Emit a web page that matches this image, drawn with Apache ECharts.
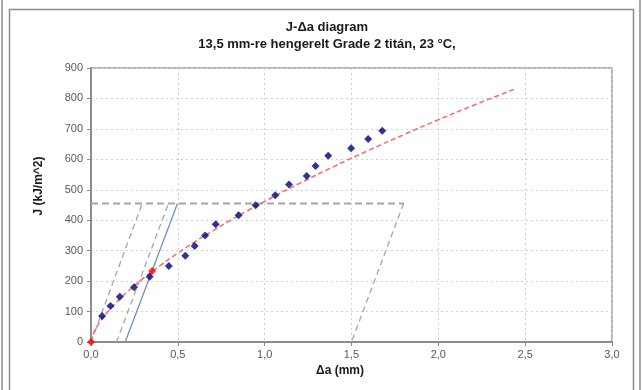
<!DOCTYPE html>
<html>
<head>
<meta charset="utf-8">
<script src="https://cdn.jsdelivr.net/npm/echarts@6/dist/echarts.min.js"></script>
<style>
html,body{margin:0;padding:0;background:#fff;}
#c{width:643px;height:390px;}
</style>
</head>
<body>
<div id="c"></div>
<script>
// Measured data points (Δa mm, J kJ/m^2)
const measDa = [0.064, 0.112, 0.166, 0.248, 0.338, 0.448, 0.543, 0.597, 0.657, 0.718, 0.850, 0.948, 1.061, 1.140, 1.242, 1.293, 1.366, 1.498, 1.596, 1.677];
const measJ  = [85, 118, 149, 180, 214, 250, 283, 315, 350, 387, 416, 449, 482, 517, 545, 578, 612, 636, 667, 694];
// Red points (origin and J_Q)
const redDa = [0, 0.352];
const redJ  = [0, 233];
// Fitted R-curve
const fitDa = [0, 0.02, 0.05, 0.1, 0.2, 0.3, 0.4, 0.5, 0.6, 0.7, 0.8, 0.9, 1.0, 1.2, 1.4, 1.6, 1.8, 2.0, 2.2, 2.436];
const fitJ  = [0, 35, 64, 101, 160, 209, 252, 292, 330, 365, 399, 431, 462, 521, 577, 630, 681, 730, 777, 830];
// Construction lines
const bluntDa = [0, 0.295];   const bluntJ = [0, 455];
const off015Da = [0.147, 0.446]; const off015J = [0, 455];
const off02Da = [0.197, 0.498];  const off02J = [0, 455];
const limHDa = [0, 1.8];        const limHJ = [455, 455];
const off15Da = [1.8, 1.5];     const off15J = [455, 0];
const xTicks = [0, 0.5, 1.0, 1.5, 2.0, 2.5, 3.0];

const zip = (a, b) => a.map((v, i) => [v, b[i]]);
const greyDash = {color: '#A6A6A6', width: 1.3, type: [6, 4]};
const font = 'Liberation Sans, Arial, sans-serif';

const chart = echarts.init(document.getElementById('c'), null, {renderer: 'canvas'});
chart.setOption({
  animation: false,
  backgroundColor: '#fff',
  title: {
    text: 'J-Δa diagram\n13,5 mm-re hengerelt Grade 2 titán, 23 °C,',
    left: 322, top: 14, textAlign: 'center',
    textStyle: {fontFamily: font, fontSize: 13, fontWeight: 'bold', color: '#1a1a1a', lineHeight: 17}
  },
  grid: {left: 91, right: 31, top: 68, bottom: 48, show: true, borderColor: '#A0A0A0', borderWidth: 1.5},
  xAxis: {
    type: 'value', min: 0, max: 3, interval: 0.5,
    axisLine: {show: true, onZero: false, lineStyle: {color: '#8C8C8C', width: 2}},
    axisTick: {show: true, length: 4, lineStyle: {color: '#8C8C8C'}},
    axisLabel: {color: '#595959', fontFamily: font, fontSize: 11, margin: 7,
      formatter: v => v.toFixed(1).replace('.', ',')},
    splitLine: {show: true, lineStyle: {color: '#D0D0D0', type: [2, 3], width: 1}}
  },
  yAxis: {
    type: 'value', min: 0, max: 900, interval: 100,
    axisLine: {show: true, lineStyle: {color: '#8C8C8C', width: 2}},
    axisTick: {show: true, length: 4, lineStyle: {color: '#8C8C8C'}},
    axisLabel: {color: '#595959', fontFamily: font, fontSize: 11, margin: 8},
    splitLine: {show: true, lineStyle: {color: '#D0D0D0', type: [2, 3], width: 1}}
  },
  graphic: [
    {type: 'rect', shape: {x: 9.5, y: 9.5, width: 624, height: 400}, style: {fill: 'none', stroke: '#8C8C8C', lineWidth: 1.5}, silent: true},
    {type: 'line', shape: {x1: 2, y1: 0, x2: 2, y2: 390}, style: {stroke: '#8C8C8C', lineWidth: 1.5}},
    {type: 'line', shape: {x1: 640, y1: 0, x2: 640, y2: 390}, style: {stroke: '#8C8C8C', lineWidth: 1.5}},
    {type: 'text', x: 340, y: 371, style: {text: 'Δa (mm)', fontFamily: font, fontSize: 12, fontWeight: 'bold', fill: '#1a1a1a', textAlign: 'center', textVerticalAlign: 'middle'}},
    {type: 'text', x: 39, y: 186, rotation: Math.PI / 2, style: {text: 'J (kJ/m^2)', fontFamily: font, fontSize: 12, fontWeight: 'bold', fill: '#1a1a1a', textAlign: 'center', textVerticalAlign: 'middle'}}
  ],
  series: [
    {type: 'line', data: zip(bluntDa, bluntJ), symbol: 'none', lineStyle: greyDash, z: 2},
    {type: 'line', data: zip(off015Da, off015J), symbol: 'none', lineStyle: greyDash, z: 2},
    {type: 'line', data: zip(limHDa, limHJ), symbol: 'none', lineStyle: {color: '#A6A6A6', width: 2, type: [7, 4]}, z: 2},
    {type: 'line', data: zip(off15Da, off15J), symbol: 'none', lineStyle: greyDash, z: 2},
    {type: 'line', data: zip(off02Da, off02J), symbol: 'none', lineStyle: {color: '#7191C4', width: 1.3}, z: 2},
    {type: 'line', data: zip(fitDa, fitJ), symbol: 'none', smooth: true, lineStyle: {color: '#FF6666', width: 1.5, type: [5, 3]}, z: 3},
    {type: 'scatter', data: zip(measDa, measJ), symbol: 'diamond', symbolSize: 8, itemStyle: {color: '#00007A'}, z: 4},
    {type: 'scatter', data: zip(redDa, redJ), symbol: 'diamond', symbolSize: 8, itemStyle: {color: '#FF0000'}, z: 5}
  ]
});
</script>
</body>
</html>
